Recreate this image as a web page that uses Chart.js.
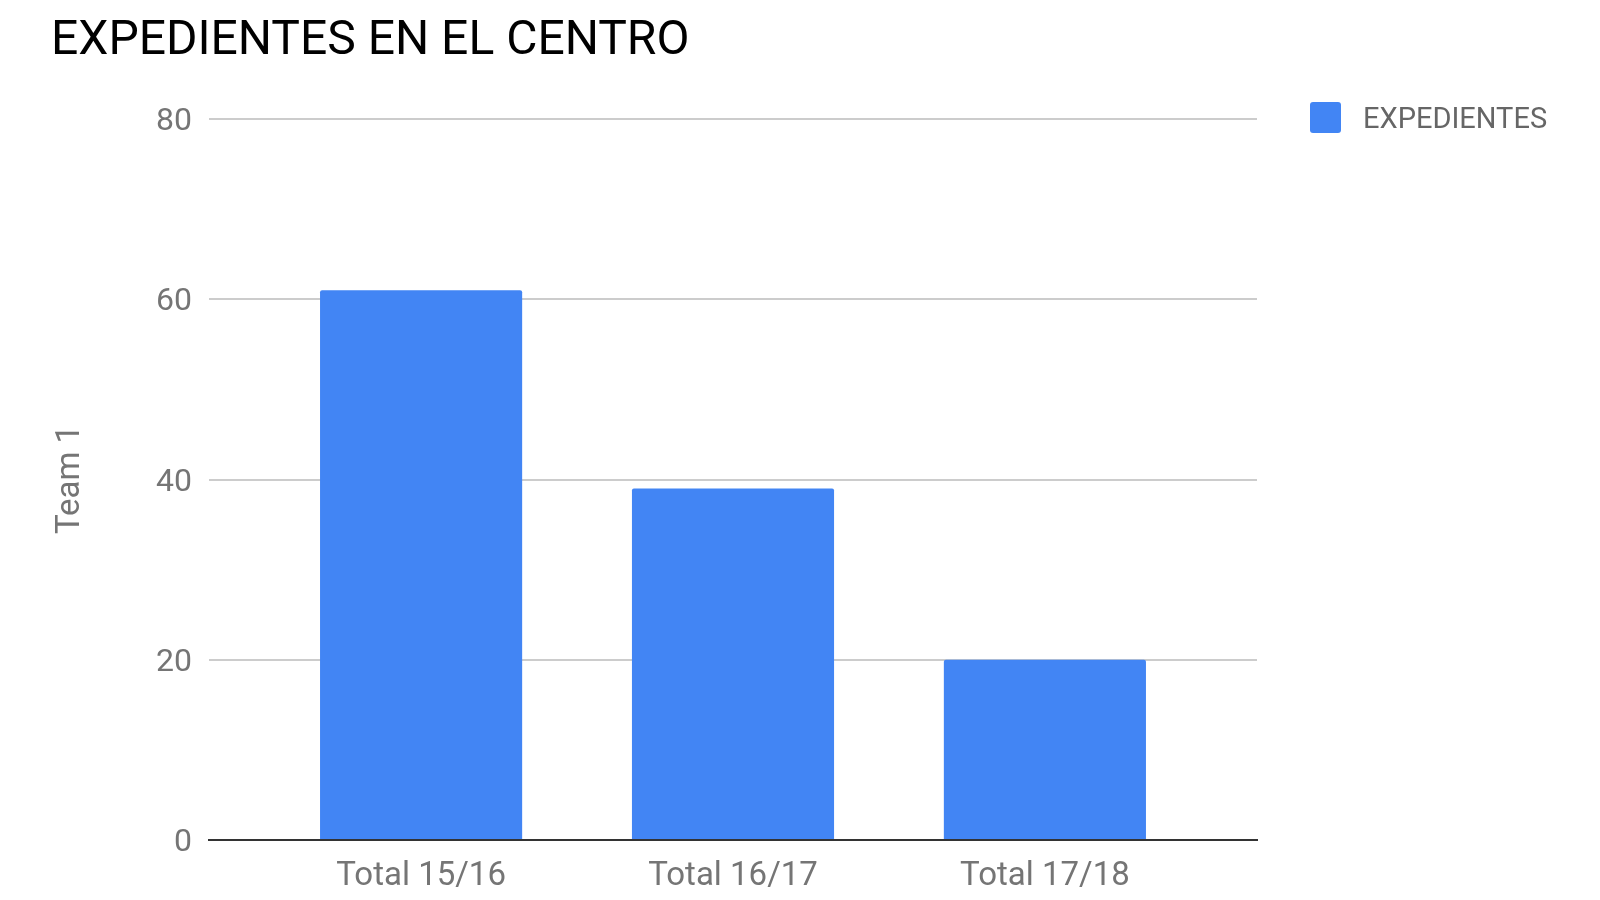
<!DOCTYPE html>
<html>
<head>
<meta charset="utf-8">
<script src="https://cdn.jsdelivr.net/npm/chart.js@4/dist/chart.umd.min.js"></script>
<style>
html,body{margin:0;padding:0;background:#fff;}
#wrap{width:1600px;height:900px;position:relative;}
</style>
</head>
<body>
<div id="wrap"><canvas id="c" width="1600" height="900"></canvas></div>
<script>
const chartTitle = 'EXPEDIENTES EN EL CENTRO';
const seriesName = 'EXPEDIENTES';
const yAxisTitle = 'Team 1';
const categories = ['Total 15/16', 'Total 16/17', 'Total 17/18'];
const values = [61, 39, 20];
const yTicks = [0, 20, 40, 60, 80];

const barColor = '#4285f4';
const FONT = 'Roboto';

const legendPlugin = {
  id: 'customLegend',
  afterDraw(chart) {
    const ctx = chart.ctx;
    const ds = chart.data.datasets[0];
    ctx.save();
    ctx.fillStyle = ds.backgroundColor;
    const bx = 1310, by = 102, bs = 31;
    ctx.beginPath();
    ctx.roundRect(bx, by, bs, bs, 3);
    ctx.fill();
    ctx.fillStyle = '#666666';
    ctx.font = '29px ' + FONT;
    ctx.textBaseline = 'middle';
    ctx.textAlign = 'left';
    ctx.fillText(ds.label, 1363, by + bs / 2 + 3);
    ctx.restore();
  }
};

new Chart(document.getElementById('c'), {
  type: 'bar',
  data: {
    datasets: [{
      label: seriesName,
      data: values.map((v, i) => ({ x: i, y: v })),
      backgroundColor: barColor,
      borderWidth: 0,
      borderRadius: 2,
      borderSkipped: 'bottom',
      categoryPercentage: 1,
      barPercentage: 0.648
    }]
  },
  options: {
    responsive: false,
    animation: false,
    layout: { padding: { left: 51, right: 343, top: 0, bottom: 0 } },
    plugins: {
      legend: { display: false },
      tooltip: { enabled: false },
      title: {
        display: true,
        text: chartTitle,
        align: 'start',
        color: '#000000',
        font: { family: FONT, size: 48, weight: 'normal' },
        padding: { top: 13, bottom: 48.4 }
      }
    },
    scales: {
      x: {
        type: 'linear',
        min: -0.68,
        max: 2.68,
        offset: false,
        grid: { display: false, drawTicks: false },
        border: { display: true, color: '#333333', width: 2 },
        afterBuildTicks(scale) {
          scale.ticks = categories.map((c, i) => ({ value: i }));
        },
        afterFit(scale) { scale.height = 60; },
        ticks: {
          autoSkip: false,
          maxRotation: 0,
          padding: 17,
          color: '#757575',
          font: { family: FONT, size: 33 },
          callback: (v) => categories[v]
        }
      },
      y: {
        min: 0,
        max: 80,
        afterBuildTicks(scale) {
          scale.ticks = yTicks.map(v => ({ value: v }));
        },
        afterFit(scale) { scale.width = 158; },
        grid: { color: '#cccccc', lineWidth: 2, drawTicks: false },
        border: { display: false },
        ticks: {
          padding: 17,
          labelOffset: 3,
          color: '#757575',
          font: { family: FONT, size: 32 }
        },
        title: {
          display: true,
          text: yAxisTitle,
          color: '#757575',
          font: { family: FONT, size: 33 },
          padding: { top: 0, bottom: 0 }
        }
      }
    }
  },
  plugins: [legendPlugin]
});
</script>
</body>
</html>
